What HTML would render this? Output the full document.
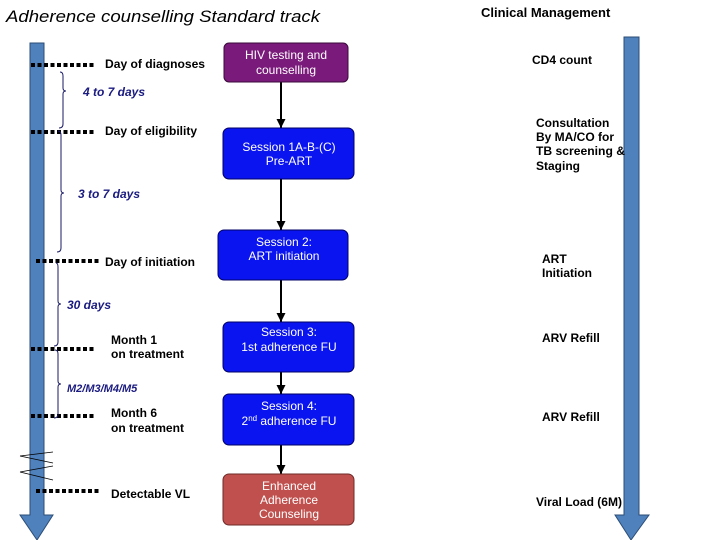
<!DOCTYPE html>
<html><head><style>
body{margin:0;background:#fff;}
svg{display:block;}
text{font-family:"Liberation Sans",Arial,sans-serif;}
</style></head><body>
<svg width="720" height="540" viewBox="0 0 720 540" xmlns="http://www.w3.org/2000/svg">
<defs>
<marker id="ah" markerWidth="9" markerHeight="9" refX="9" refY="4.5" orient="auto" markerUnits="userSpaceOnUse">
<path d="M0,0 L9,4.5 L0,9 Z" fill="#000"/>
</marker>
</defs>
<text x="6" y="22" font-size="17" font-style="italic" fill="#000" textLength="314" lengthAdjust="spacingAndGlyphs">Adherence counselling Standard track</text>
<text x="481" y="17" font-size="13" font-weight="bold" fill="#000">Clinical Management</text>

<!-- left arrow -->
<path d="M30,43 L44,43 L44,515 L53,515 L37,540 L20,515 L30,515 Z" fill="#4f81bd" stroke="#2c4d75" stroke-width="1"/>
<!-- right arrow -->
<path d="M624,37 L639,37 L639,515 L649,515 L631,540 L615,515 L624,515 Z" fill="#4f81bd" stroke="#2c4d75" stroke-width="1"/>

<!-- dotted lines -->
<g stroke="#000" stroke-width="4" stroke-dasharray="4,2.5">
<line x1="31" y1="65" x2="96" y2="65"/>
<line x1="31" y1="132" x2="96" y2="132"/>
<line x1="36" y1="261" x2="100" y2="261"/>
<line x1="31" y1="349" x2="94" y2="349"/>
<line x1="31" y1="416" x2="94" y2="416"/>
<line x1="36" y1="491" x2="100" y2="491"/>
</g>

<!-- braces -->
<g fill="none" stroke="#1a1a66" stroke-width="1">
<path d="M60,72 Q63,72 63,76 L63,88 Q63,91 66,91 Q63,91 63,94 L63,124 Q63,128 59,128"/>
<path d="M58,131 Q61,131 61,135 L61,190 Q61,193 64,193 Q61,193 61,196 L61,248 Q61,252 57,252"/>
<path d="M56,263 Q58,263 58,267 L58,301 Q58,304 61,304 Q58,304 58,307 L58,342 Q58,346 54,346"/>
<path d="M55,350 Q58,350 58,354 L58,381 Q58,384 61,384 Q58,384 58,387 L58,414 Q58,418 54,418"/>
</g>
<g stroke="#000" stroke-width="0.8">
<line x1="20" y1="456" x2="53" y2="452"/>
<line x1="20" y1="456" x2="53" y2="463"/>
<line x1="20" y1="472" x2="53" y2="466"/>
<line x1="20" y1="472" x2="53" y2="480"/>
</g>

<g font-size="12" fill="#000" font-weight="bold">
<text x="105" y="68" textLength="100" lengthAdjust="spacingAndGlyphs">Day of diagnoses</text>
<text x="105" y="135" textLength="92" lengthAdjust="spacingAndGlyphs">Day of eligibility</text>
<text x="105" y="266" textLength="90" lengthAdjust="spacingAndGlyphs">Day of initiation</text>
<text x="111" y="344">Month 1</text>
<text x="111" y="358" textLength="73" lengthAdjust="spacingAndGlyphs">on treatment</text>
<text x="111" y="417">Month 6</text>
<text x="111" y="432" textLength="73" lengthAdjust="spacingAndGlyphs">on treatment</text>
<text x="111" y="498" textLength="79" lengthAdjust="spacingAndGlyphs">Detectable VL</text>
</g>
<g font-size="12" font-style="italic" font-weight="bold" fill="#1a1a80">
<text x="83" y="96">4 to 7 days</text>
<text x="78" y="198">3 to 7 days</text>
<text x="67" y="309">30 days</text>
<text x="67" y="392" font-size="11">M2/M3/M4/M5</text>
</g>

<!-- connectors -->
<g stroke="#000" stroke-width="2" marker-end="url(#ah)">
<line x1="281" y1="82" x2="281" y2="128"/>
<line x1="281" y1="179" x2="281" y2="230"/>
<line x1="281" y1="280" x2="281" y2="322"/>
<line x1="281" y1="372" x2="281" y2="394"/>
<line x1="281" y1="445" x2="281" y2="474"/>
</g>

<!-- boxes -->
<rect x="224" y="43" width="124" height="39" rx="5" fill="#7a1a7a" stroke="#3a0a3a"/>
<rect x="223" y="128" width="131" height="51" rx="6" fill="#0a14f0" stroke="#000066"/>
<rect x="218" y="230" width="130" height="50" rx="6" fill="#0a14f0" stroke="#000066"/>
<rect x="223" y="322" width="131" height="50" rx="6" fill="#0a14f0" stroke="#000066"/>
<rect x="223" y="394" width="131" height="51" rx="6" fill="#0a14f0" stroke="#000066"/>
<rect x="223" y="474" width="131" height="51" rx="6" fill="#c0504d" stroke="#6e2a28"/>
<g font-size="12" fill="#fff" text-anchor="middle">
<text x="286" y="59">HIV testing and</text>
<text x="286" y="74">counselling</text>
<text x="289" y="151">Session 1A-B-(C)</text>
<text x="289" y="165">Pre-ART</text>
<text x="284" y="246">Session 2:</text>
<text x="284" y="260">ART initiation</text>
<text x="289" y="336">Session 3:</text>
<text x="289" y="351">1st adherence FU</text>
<text x="289" y="410">Session 4:</text>
<text x="289" y="425">2<tspan font-size="8" dy="-4">nd</tspan><tspan dy="4"> adherence FU</tspan></text>
<text x="289" y="490">Enhanced</text>
<text x="289" y="504">Adherence</text>
<text x="289" y="518">Counseling</text>
</g>

<g font-size="12" fill="#000" font-weight="bold">
<text x="532" y="64">CD4 count</text>
<text x="536" y="127">Consultation</text>
<text x="536" y="141">By MA/CO for</text>
<text x="536" y="155" textLength="89" lengthAdjust="spacingAndGlyphs">TB screening &amp;</text>
<text x="536" y="170">Staging</text>
<text x="542" y="263">ART</text>
<text x="542" y="277">Initiation</text>
<text x="542" y="342">ARV Refill</text>
<text x="542" y="421">ARV Refill</text>
<text x="536" y="506" textLength="86" lengthAdjust="spacingAndGlyphs">Viral Load (6M)</text>
</g>
</svg>
</body></html>
